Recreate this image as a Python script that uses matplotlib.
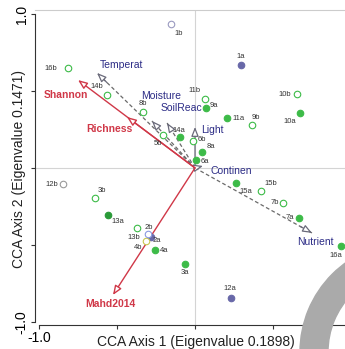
import matplotlib
matplotlib.use("Agg")
import matplotlib.pyplot as plt
from matplotlib.patches import Wedge

plt.rcParams["font.family"] = ["Liberation Sans", "DejaVu Sans"]

# site scores (CCA axis 1, axis 2)
sites = ["1a", "1b", "2a", "2b", "3a", "3b", "4a", "4b", "5b", "6a", "6b",
         "7a", "7b", "8a", "8b", "9a", "9b", "10a", "10b", "11a", "11b",
         "12a", "12b", "13a", "13b", "14a", "14b", "15a", "15b", "16a", "16b"]
site_x = [0.295, -0.154, -0.282, -0.372, -0.064, -0.641, -0.256, -0.314, -0.205, 0.006, -0.013,
          0.667, 0.564, 0.045, -0.333, 0.071, 0.365, 0.673, 0.654, 0.205, 0.064,
          0.231, -0.846, -0.558, -0.301, -0.096, -0.564, 0.263, 0.423, 0.936, -0.814]
site_y = [0.669, 0.935, -0.448, -0.390, -0.623, -0.195, -0.532, -0.474, 0.214, 0.052, 0.175,
          -0.325, -0.227, 0.104, 0.364, 0.390, 0.279, 0.357, 0.481, 0.325, 0.448,
          -0.844, -0.104, -0.305, -0.429, 0.201, 0.474, -0.097, -0.149, -0.506, 0.649]
site_group = ["purple", "lavender", "purple", "green", "green", "green", "green", "yellow", "green", "green", "green",
              "green", "green", "green", "green", "green", "green", "green", "green", "green", "green",
              "purple", "gray", "darkgreen", "blue", "green", "green", "green", "green", "green", "green"]

# environmental vectors
env_vars = ["Temperat", "Moisture", "SoilReac", "Light", "Continen", "Nutrient"]
env_x = [-0.628, -0.276, -0.179, 0.0, 0.051, 0.75]
env_y = [0.617, 0.305, 0.292, 0.266, 0.013, -0.422]

# diversity vectors
div_vars = ["Shannon", "Richness", "Mahd2014"]
div_x = [-0.75, -0.436, -0.526]
div_y = [0.571, 0.331, -0.825]

colors = {"green": "#3dbb48", "darkgreen": "#2a9a38", "purple": "#6868a8",
          "lavender": "#9a9ac0", "gray": "#9a9a9a", "blue": "#8a9ae0", "yellow": "#c8c850"}
red = "#d03848"
navy = "#2c2c86"

# label offsets in pixels (dx right, dy down)
site_off = {"1a": (0, -8), "1b": (8, 9), "2a": (6, 4), "2b": (12, -1), "3a": (0, 9),
            "3b": (7, -7), "4a": (9, 1), "4b": (-8, 7), "5b": (-5, 8), "6a": (9, 2),
            "6b": (9, -2), "7a": (-9, 0), "7b": (-8, 0), "8a": (9, -5), "8b": (0, -8),
            "9a": (8, -2), "9b": (4, -8), "10a": (-10, 9), "10b": (-12, 1), "11a": (12, 1),
            "11b": (-10, -8), "12a": (-1, -9), "12b": (-11, 1), "13a": (10, 7),
            "13b": (-14, 3), "14a": (-1, -7), "14b": (-10, -8), "15a": (10, 9),
            "15b": (10, -7), "16a": (-5, 10), "16b": (-17, 0)}
env_off = {"Temperat": (24, -8, "center"), "Moisture": (9, -25, "center"),
           "SoilReac": (14, -15, "center"), "Light": (6, 3, "left"),
           "Continen": (8, 5, "left"), "Nutrient": (3, 9, "center")}
div_off = {"Shannon": (-12, 15), "Richness": (-18, 12), "Mahd2014": (-3, 9)}

PX = 0.72  # points per pixel at 100 dpi

fig = plt.figure(figsize=(3.45, 3.49), dpi=100)
ax = fig.add_axes([35 / 345, 24 / 349, 320 / 345, 315 / 349])
ax.set_xlim(-1.026, 1.026)
ax.set_ylim(-1.02, 1.026)

ax.axhline(0, color="#d4d4d4", lw=0.8, zorder=0)
ax.axvline(0, color="#d4d4d4", lw=0.8, zorder=0)

head = "-|>,head_length=0.55,head_width=0.22"

# environmental arrows: dashed shaft, open solid head
for name, x, y in zip(env_vars, env_x, env_y):
    if name in ("Temperat", "Moisture", "SoilReac", "Nutrient"):
        ax.plot([0, x], [0, y], color="#6a6a6a", lw=0.9, ls=(0, (3, 2)), zorder=2)
        start = (0.9 * x, 0.9 * y)
    else:
        start = (0, 0)
    ax.annotate("", xy=(x, y), xytext=start,
                arrowprops=dict(arrowstyle=head, ec="#6a6a7a", fc="white", lw=0.9,
                                shrinkA=0, shrinkB=0), zorder=3)
    dx, dy, ha = env_off[name]
    ax.annotate(name, xy=(x, y), xytext=(dx * PX, -dy * PX), textcoords="offset points",
                ha=ha, va="center", fontsize=7.5, color=navy, zorder=5)

# diversity arrows (red)
for name, x, y in zip(div_vars, div_x, div_y):
    ax.annotate("", xy=(x, y), xytext=(0, 0),
                arrowprops=dict(arrowstyle=head, ec=red, fc="white", lw=1.0,
                                shrinkA=0, shrinkB=0), zorder=3)
    dx, dy = div_off[name]
    ax.annotate(name, xy=(x, y), xytext=(dx * PX, -dy * PX), textcoords="offset points",
                ha="center", va="center", fontsize=7.5, color=red, fontweight="bold", zorder=5)

# sites
for name, x, y, g in zip(sites, site_x, site_y, site_group):
    c = colors[g]
    if name.endswith("a"):
        ax.scatter(x, y, s=22, color=c, edgecolor=c, lw=0.8, zorder=4)
    else:
        ax.scatter(x, y, s=22, facecolor="white", edgecolor=c, lw=0.8, zorder=4)
    dx, dy = site_off[name]
    ax.annotate(name, xy=(x, y), xytext=(dx * PX, -dy * PX), textcoords="offset points",
                ha="center", va="center", fontsize=5.5, color="#333333", zorder=5)

ax.spines["right"].set_visible(False)
ax.spines["top"].set_color("#cccccc")
ax.spines["left"].set_bounds(-1, 1)
ax.spines["bottom"].set_bounds(-1, 1)
ax.spines["left"].set_color("#333333")
ax.spines["bottom"].set_color("#333333")

ax.set_xticks([-1, -0.5, 0, 0.5, 1])
ax.set_xticklabels(["-1.0", "", "", "", ""], fontsize=10)
ax.set_yticks([-1, -0.5, 0, 0.5, 1])
ax.set_yticklabels(["-1.0", "", "", "", "1.0"], fontsize=10, rotation=90, va="center")
ax.tick_params(length=3, width=0.8, pad=1.5, color="#333333")

fig.text(196 / 345, 1 - 342 / 349, "CCA Axis 1 (Eigenvalue 0.1898)", ha="center", va="center",
         fontsize=10, color="#222222")
fig.text(19 / 345, 1 - 169 / 349, "CCA Axis 2 (Eigenvalue 0.1471)", ha="center", va="center",
         fontsize=10, rotation=90, color="#222222")

# grey ring watermark in the lower right corner
ring = Wedge((410, 349 - 352), 110, 0, 360, width=28, color="#aaaaaa", zorder=10,
             transform=None)
fig.add_artist(ring)

fig.savefig("out.png", dpi=100)
